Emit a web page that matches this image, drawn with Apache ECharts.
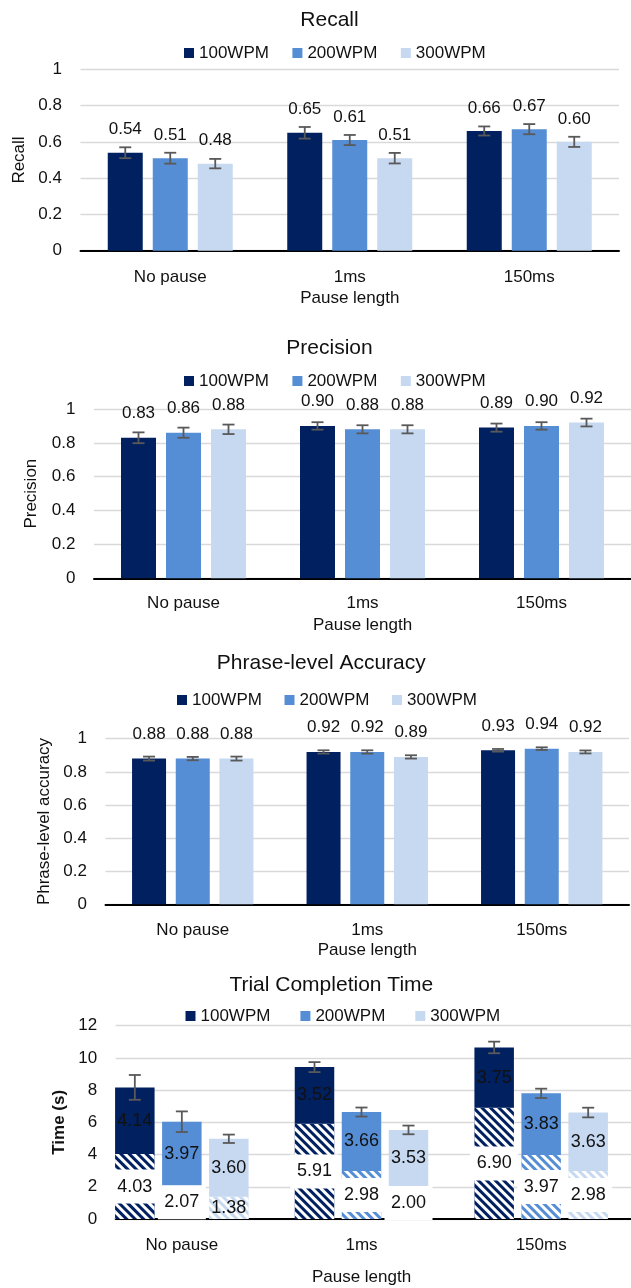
<!DOCTYPE html>
<html><head><meta charset="utf-8">
<script src="https://cdn.jsdelivr.net/npm/echarts@6/dist/echarts.min.js"></script>
<style>html,body{margin:0;padding:0;background:#fff}#c{width:631px;height:1288px}</style>
</head><body><div id="c"></div>
<script>
// ---------- DATA ----------
const categories = ['No pause', '1ms', '150ms'];
const speeds = ['100WPM', '200WPM', '300WPM'];

const recall100 = [0.54, 0.65, 0.66];
const recall200 = [0.51, 0.61, 0.67];
const recall300 = [0.48, 0.51, 0.60];
const recallErr100 = [0.03, 0.032, 0.025];
const recallErr200 = [0.03, 0.028, 0.028];
const recallErr300 = [0.026, 0.029, 0.028];

const precision100 = [0.83, 0.90, 0.89];
const precision200 = [0.86, 0.88, 0.90];
const precision300 = [0.88, 0.88, 0.92];
const precisionErr100 = [0.032, 0.022, 0.024];
const precisionErr200 = [0.03, 0.024, 0.022];
const precisionErr300 = [0.028, 0.024, 0.023];

const accuracy100 = [0.88, 0.92, 0.93];
const accuracy200 = [0.88, 0.92, 0.94];
const accuracy300 = [0.88, 0.89, 0.92];
const accuracyErr100 = [0.012, 0.010, 0.008];
const accuracyErr200 = [0.010, 0.010, 0.008];
const accuracyErr300 = [0.012, 0.010, 0.009];

// trial completion time: hatched lower part + solid upper part
const timeBase100 = [4.03, 5.91, 6.90];
const timeBase200 = [2.07, 2.98, 3.97];
const timeBase300 = [1.38, 2.00, 2.98];
const timeTop100 = [4.14, 3.52, 3.75];
const timeTop200 = [3.97, 3.66, 3.83];
const timeTop300 = [3.60, 3.53, 3.63];
const timeErr100 = [0.77, 0.31, 0.36];
const timeErr200 = [0.64, 0.28, 0.29];
const timeErr300 = [0.26, 0.27, 0.30];

const unitTicks = [0, 0.2, 0.4, 0.6, 0.8, 1];
const timeTicks = [0, 2, 4, 6, 8, 10, 12];

// ---------- STYLE ----------
const FONT = '"Liberation Sans", Arial, sans-serif';
const colors = ['#002060', '#558ED5', '#C6D9F1'];
const TXT = '#111';
const GRIDC = '#D9D9D9';
const ERRC = '#595959';
// label cells (speed index, category index) drawn without white box
const plainBaseLabels = [[2, 0]];

const panels = [
  { title: 'Recall', tx: 329.5, ty: 20, lx: 184, ly: 53, lgap: 23.5,
    top: 69.3, height: 181.4, left: 80.5, width: 538.5, yName: 'Recall', yGap: 48,
    bw: 35, gap: 10, ldist: 14.5, xMargin: 17.8, xNameGap: 38.8,
    vals: [recall100, recall200, recall300], errs: [recallErr100, recallErr200, recallErr300] },
  { title: 'Precision', tx: 329.5, ty: 348, lx: 184, ly: 381, lgap: 23.5,
    top: 409, height: 169.3, left: 94, width: 537, yName: 'Precision', yGap: 54,
    bw: 35, gap: 10, ldist: 15.8, xMargin: 16.2, xNameGap: 38.2,
    vals: [precision100, precision200, precision300], errs: [precisionErr100, precisionErr200, precisionErr300] },
  { title: 'Phrase-level Accuracy', tx: 321.3, ty: 663, lx: 177, ly: 700, lgap: 22.6,
    top: 738.7, height: 165.6, left: 105.5, width: 523.5, yName: 'Phrase-level accuracy', yGap: 52.7,
    bw: 34, gap: 9.7, ldist: 15.8, xMargin: 17.2, xNameGap: 37.2,
    vals: [accuracy100, accuracy200, accuracy300], errs: [accuracyErr100, accuracyErr200, accuracyErr300] }
];
const P4 = { title: 'Trial Completion Time', tx: 331.3, ty: 985, lx: 185.5, ly: 1016, lgap: 30,
  top: 1025.7, height: 193.3, barLeft: 92, barWidthArea: 564, lineLeft: 115.7,
  yName: 'Time (s)', yGap: 47.7, bw: 39.5, gap: 7.5, xMargin: 17.5, xNameGap: 49.5 };

function errRender(offset, capW) {
  return function (params, api) {
    const i = api.value(0), v = api.value(1), e = api.value(2);
    const c = api.coord([i, v]);
    const t = api.coord([i, v + e]);
    const b = api.coord([i, v - e]);
    const x = c[0] + offset;
    const st = { stroke: ERRC, lineWidth: 1.8, fill: null };
    return { type: 'group', children: [
      { type: 'line', shape: { x1: x, y1: t[1], x2: x, y2: b[1] }, style: st },
      { type: 'line', shape: { x1: x - capW / 2, y1: t[1], x2: x + capW / 2, y2: t[1] }, style: st },
      { type: 'line', shape: { x1: x - capW / 2, y1: b[1], x2: x + capW / 2, y2: b[1] }, style: st }
    ] };
  };
}

const option = { animation: false, backgroundColor: '#fff', textStyle: { fontFamily: FONT },
  title: [], legend: [], grid: [], xAxis: [], yAxis: [], series: [] };

function addHeader(p) {
  option.title.push({ text: p.title, left: p.tx, top: p.ty - 10.5, textAlign: 'center', padding: 0,
    textStyle: { fontSize: 21, fontWeight: 'normal', color: TXT, fontFamily: FONT } });
  option.legend.push({ data: speeds.slice(), left: p.lx, top: p.ly - 8.5, padding: 0, icon: 'rect',
    itemWidth: 10, itemHeight: 10, itemGap: p.lgap, selectedMode: false,
    textStyle: { fontSize: 17, color: TXT, fontFamily: FONT, padding: [0, 0, 0, 0] } });
}

panels.forEach((p, g) => {
  addHeader(p);
  option.grid.push({ left: p.left, top: p.top, width: p.width, height: p.height });
  option.xAxis.push({ type: 'category', gridIndex: g, data: categories,
    name: 'Pause length', nameLocation: 'middle', nameGap: p.xNameGap,
    nameTextStyle: { fontSize: 17, color: TXT, fontFamily: FONT },
    axisLine: { lineStyle: { color: '#000', width: 2 } }, axisTick: { show: false },
    axisLabel: { fontSize: 17, color: TXT, margin: p.xMargin, fontFamily: FONT } });
  option.yAxis.push({ type: 'value', gridIndex: g, min: unitTicks[0], max: unitTicks[unitTicks.length - 1],
    interval: unitTicks[1] - unitTicks[0],
    name: p.yName, nameLocation: 'middle', nameGap: p.yGap, nameRotate: 90,
    nameTextStyle: { fontSize: 17, color: TXT, fontFamily: FONT },
    axisLine: { show: false }, axisTick: { show: false },
    axisLabel: { fontSize: 17, color: TXT, margin: 18.5, fontFamily: FONT },
    splitLine: { lineStyle: { color: GRIDC, width: 1.3 } } });
  speeds.forEach((s, k) => {
    option.series.push({ type: 'bar', name: s, xAxisIndex: g, yAxisIndex: g, data: p.vals[k],
      barWidth: p.bw, barGap: (p.gap / p.bw * 100) + '%',
      itemStyle: { color: colors[k] },
      label: { show: true, position: 'top', distance: p.ldist, fontSize: 17, color: TXT, fontFamily: FONT,
        formatter: (d) => d.value.toFixed(2) } });
  });
  speeds.forEach((s, k) => {
    option.series.push({ type: 'custom', name: 'err' + g + k, xAxisIndex: g, yAxisIndex: g, z: 5,
      encode: { x: 0, y: 1 },
      data: p.vals[k].map((v, i) => [i, v, p.errs[k][i]]),
      renderItem: errRender((k - 1) * (p.bw + p.gap), 12) });
  });
});

// ---------- Panel 4 ----------
addHeader(P4);
const gBar = 3, gLine = 4;
option.grid.push({ left: P4.barLeft, top: P4.top, width: P4.barWidthArea, height: P4.height });
option.grid.push({ left: P4.lineLeft, top: P4.top, width: P4.barLeft + P4.barWidthArea - P4.lineLeft, height: P4.height });
option.xAxis.push({ type: 'category', gridIndex: gBar, data: categories,
  name: 'Pause length', nameLocation: 'middle', nameGap: P4.xNameGap,
  nameTextStyle: { fontSize: 17, color: TXT, fontFamily: FONT },
  axisLine: { show: false }, axisTick: { show: false },
  axisLabel: { fontSize: 17, color: TXT, margin: P4.xMargin, fontFamily: FONT } });
option.xAxis.push({ type: 'category', gridIndex: gLine, data: categories,
  axisLine: { lineStyle: { color: '#000', width: 2 } }, axisTick: { show: false }, axisLabel: { show: false } });
const tMin = timeTicks[0], tMax = timeTicks[timeTicks.length - 1], tInt = timeTicks[1] - timeTicks[0];
option.yAxis.push({ type: 'value', gridIndex: gBar, min: tMin, max: tMax, interval: tInt, show: false,
  splitLine: { show: false } });
option.yAxis.push({ type: 'value', gridIndex: gLine, min: tMin, max: tMax, interval: tInt,
  name: P4.yName, nameLocation: 'middle', nameGap: P4.yGap, nameRotate: 90,
  nameTextStyle: { fontSize: 17, fontWeight: 'bold', color: TXT, fontFamily: FONT },
  axisLine: { show: false }, axisTick: { show: false },
  axisLabel: { fontSize: 17, color: TXT, margin: 18.5, fontFamily: FONT },
  splitLine: { lineStyle: { color: GRIDC, width: 1.3 } } });

const bases = [timeBase100, timeBase200, timeBase300];
const tops = [timeTop100, timeTop200, timeTop300];
const terrs = [timeErr100, timeErr200, timeErr300];
speeds.forEach((s, k) => {
  option.series.push({ type: 'bar', name: s + ' base', stack: 'st' + k, xAxisIndex: gBar, yAxisIndex: gBar,
    barWidth: P4.bw, barGap: (P4.gap / P4.bw * 100) + '%',
    itemStyle: { color: colors[k],
      decal: { symbol: 'rect', symbolSize: 1, color: '#fff', dashArrayX: [1, 0], dashArrayY: [2.4, 2.4], rotation: Math.PI / 4 } },
    data: bases[k].map((v, i) => {
      const plain = plainBaseLabels.some(c => c[0] === k && c[1] === i);
      return plain ? { value: v, label: { backgroundColor: 'transparent' } } : v;
    }),
    label: { show: true, position: 'inside', fontSize: 18, color: TXT, fontFamily: FONT,
      backgroundColor: '#fff', width: 48, height: 34, lineHeight: 34, align: 'center', verticalAlign: 'middle',
      formatter: (d) => d.value.toFixed(2) } });
});
speeds.forEach((s, k) => {
  option.series.push({ type: 'bar', name: s, stack: 'st' + k, xAxisIndex: gBar, yAxisIndex: gBar,
    barWidth: P4.bw, barGap: (P4.gap / P4.bw * 100) + '%',
    itemStyle: { color: colors[k] }, data: tops[k],
    label: { show: true, position: 'inside', fontSize: 18, color: TXT, fontFamily: FONT,
      formatter: (d) => d.value.toFixed(2) } });
});
speeds.forEach((s, k) => {
  option.series.push({ type: 'custom', name: 'terr' + k, xAxisIndex: gBar, yAxisIndex: gBar, z: 5,
    encode: { x: 0, y: 1 },
    data: bases[k].map((v, i) => [i, v + tops[k][i], terrs[k][i]]),
    renderItem: errRender((k - 1) * (P4.bw + P4.gap), 12) });
});

const chart = echarts.init(document.getElementById('c'), null, { renderer: 'canvas', width: 631, height: 1288 });
chart.setOption(option);
</script></body></html>
